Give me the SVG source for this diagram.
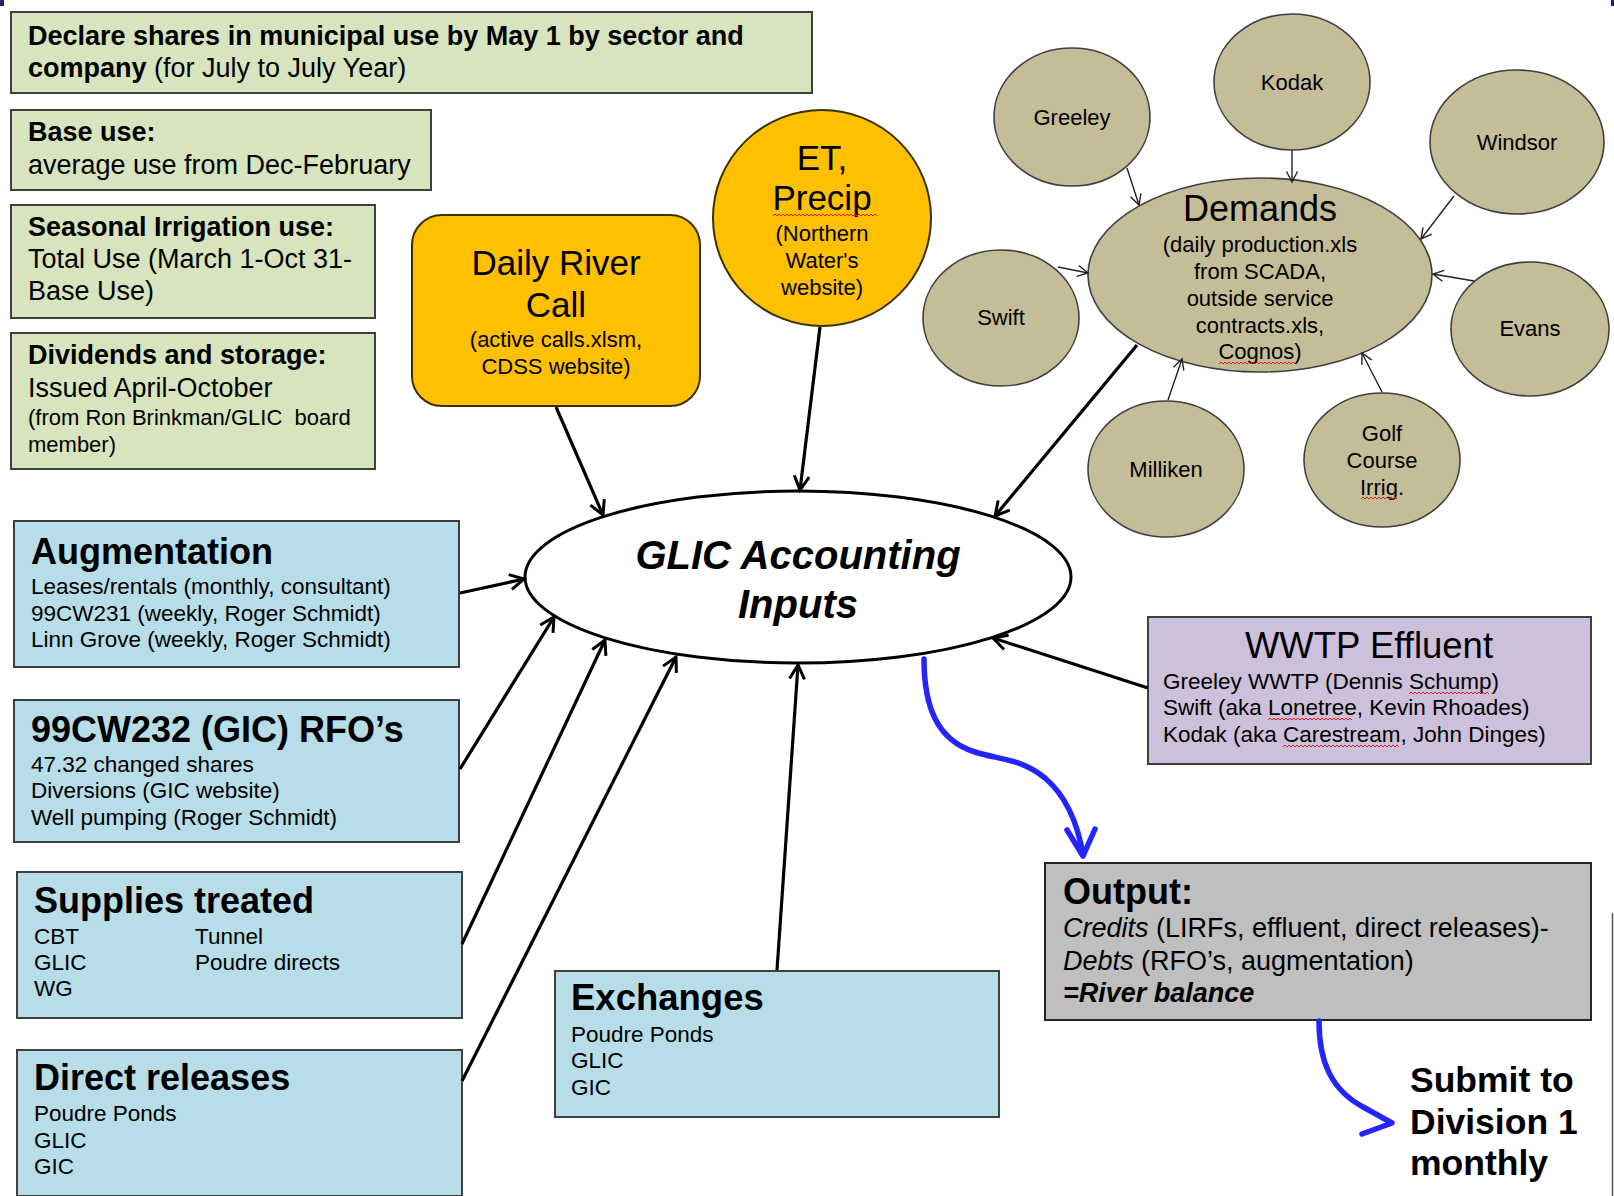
<svg xmlns="http://www.w3.org/2000/svg" width="1614" height="1196" viewBox="0 0 1614 1196">
<style>
text{font-family:"Liberation Sans",Arial,sans-serif;fill:#000}
.b{font-weight:bold}
.i{font-style:italic}
.g{fill:#D7E4BD;stroke:#3F3F3F;stroke-width:2}
.bl{fill:#B7DDE8;stroke:#3F3F3F;stroke-width:2}
.y{fill:#FFC000;stroke:#3a3000;stroke-width:2}
.t{fill:#C4BD97;stroke:#3F3F3F;stroke-width:1.6}
.f27{font-size:27px}
.f22{font-size:22px}
.f225{font-size:22.5px}
.f35{font-size:35px}
.f36{font-size:36px}
.ct{text-anchor:middle}
.thick{stroke:#000;stroke-width:3.2;fill:none}
.thin{stroke:#222;stroke-width:1.4;fill:none}
.blue{stroke:#2424FF;stroke-width:5.5;fill:none;stroke-linecap:round;stroke-linejoin:round}
.sq{stroke:#E02020;stroke-width:1;fill:none}
</style>
<defs>
<marker id="ah" markerUnits="userSpaceOnUse" markerWidth="20" markerHeight="20" refX="15" refY="9" orient="auto">
<path d="M1,1.5 L15,9 L1,16.5" fill="none" stroke="#000" stroke-width="3"/>
</marker>
<marker id="ahs" markerUnits="userSpaceOnUse" markerWidth="14" markerHeight="14" refX="11" refY="7" orient="auto">
<path d="M0.5,1.5 L11,7 L0.5,12.5" fill="none" stroke="#222" stroke-width="1.4"/>
</marker>
</defs>
<rect width="1614" height="1196" fill="#fff"/>
<rect x="0" y="0" width="4" height="6" fill="#1B2A6B"/>
<rect x="1611" y="0" width="3" height="6" fill="#1B2A6B"/>
<line x1="1612.5" y1="913" x2="1612.5" y2="1196" stroke="#555" stroke-width="1.5"/>

<g id="declare">
<rect class="g" x="11" y="12" width="801" height="81"/>
<text class="f27" x="28" y="45"><tspan class="b">Declare shares in municipal use by May 1 by sector and</tspan></text>
<text class="f27" x="28" y="77"><tspan class="b">company</tspan> (for July to July Year)</text>
</g>
<g id="base-use">
<rect class="g" x="11" y="110" width="420" height="80"/>
<text class="f27 b" x="28" y="141">Base use:</text>
<text class="f27" x="28" y="174">average use from Dec-February</text>
</g>
<g id="seasonal">
<rect class="g" x="11" y="205" width="364" height="113"/>
<text class="f27 b" x="28" y="236">Seasonal Irrigation use:</text>
<text class="f27" x="28" y="268">Total Use (March 1-Oct 31-</text>
<text class="f27" x="28" y="300">Base Use)</text>
</g>
<g id="dividends">
<rect class="g" x="11" y="333" width="364" height="136"/>
<text class="f27 b" x="28" y="364">Dividends and storage:</text>
<text class="f27" x="28" y="397">Issued April-October</text>
<text class="f22" x="28" y="425" xml:space="preserve">(from Ron Brinkman/GLIC  board</text>
<text class="f22" x="28" y="452">member)</text>
</g>

<g id="daily-river-call">
<rect class="y" x="412" y="215" width="288" height="191" rx="30"/>
<text class="f35 ct" x="556" y="275">Daily River</text>
<text class="f35 ct" x="556" y="317">Call</text>
<text class="f22 ct" x="556" y="347">(active calls.xlsm,</text>
<text class="f22 ct" x="556" y="374">CDSS website)</text>
</g>
<g id="et-precip">
<ellipse class="y" cx="822" cy="218" rx="109" ry="108"/>
<text class="f35 ct" x="822" y="170">ET,</text>
<text class="f35 ct" x="822" y="210">Precip</text>
<path class="sq" d="M773,216 l2,-2 2,2 2,-2 2,2 2,-2 2,2 2,-2 2,2 2,-2 2,2 2,-2 2,2 2,-2 2,2 2,-2 2,2 2,-2 2,2 2,-2 2,2 2,-2 2,2 2,-2 2,2 2,-2 2,2 2,-2 2,2 2,-2 2,2 2,-2 2,2 2,-2 2,2 2,-2 2,2 2,-2 2,2 2,-2 2,2 2,-2 2,2 2,-2 2,2 2,-2 2,2 2,-2 2,2 2,-2 2,2 2,-2 2,2"/>
<text class="f22 ct" x="822" y="241">(Northern</text>
<text class="f22 ct" x="822" y="268">Water's</text>
<text class="f22 ct" x="822" y="295">website)</text>
</g>

<g id="demands">
<ellipse class="t" cx="1260" cy="275" rx="172" ry="97"/>
<text class="ct" x="1260" y="221" font-size="36">Demands</text>
<text class="f22 ct" x="1260" y="252">(daily production.xls</text>
<text class="f22 ct" x="1260" y="279">from SCADA,</text>
<text class="f22 ct" x="1260" y="306">outside service</text>
<text class="f22 ct" x="1260" y="333">contracts.xls,</text>
<text class="f22 ct" x="1260" y="359">Cognos)</text>
<path class="sq" d="M1219,364 l2,-2 2,2 2,-2 2,2 2,-2 2,2 2,-2 2,2 2,-2 2,2 2,-2 2,2 2,-2 2,2 2,-2 2,2 2,-2 2,2 2,-2 2,2 2,-2 2,2 2,-2 2,2 2,-2 2,2 2,-2 2,2 2,-2 2,2 2,-2 2,2 2,-2 2,2 2,-2 2,2 2,-2 2,2"/>
</g>
<g id="greeley"><ellipse class="t" cx="1072" cy="117" rx="78" ry="69"/><text class="f22 ct" x="1072" y="125">Greeley</text></g>
<g id="kodak"><ellipse class="t" cx="1292" cy="82" rx="78" ry="68"/><text class="f22 ct" x="1292" y="90">Kodak</text></g>
<g id="windsor"><ellipse class="t" cx="1517" cy="142" rx="87" ry="72"/><text class="f22 ct" x="1517" y="150">Windsor</text></g>
<g id="swift"><ellipse class="t" cx="1001" cy="318" rx="78" ry="68"/><text class="f22 ct" x="1001" y="325">Swift</text></g>
<g id="evans"><ellipse class="t" cx="1530" cy="329" rx="79" ry="67"/><text class="f22 ct" x="1530" y="336">Evans</text></g>
<g id="milliken"><ellipse class="t" cx="1166" cy="469" rx="78" ry="68"/><text class="f22 ct" x="1166" y="477">Milliken</text></g>
<g id="golf"><ellipse class="t" cx="1382" cy="460" rx="78" ry="67"/>
<text class="f22 ct" x="1382" y="441">Golf</text>
<text class="f22 ct" x="1382" y="468">Course</text>
<text class="f22 ct" x="1382" y="495">Irrig.</text>
<path class="sq" d="M1361,499 l2,-2 2,2 2,-2 2,2 2,-2 2,2 2,-2 2,2 2,-2 2,2 2,-2 2,2 2,-2 2,2 2,-2 2,2 2,-2 2,2"/>
</g>

<g id="glic">
<ellipse cx="798" cy="577" rx="273" ry="86" fill="#fff" stroke="#000" stroke-width="3"/>
<text class="b i ct" x="798" y="569" font-size="40">GLIC Accounting</text>
<text class="b i ct" x="798" y="618" font-size="40">Inputs</text>
</g>

<g id="augmentation">
<rect class="bl" x="14" y="521" width="445" height="146"/>
<text class="f36 b" x="31" y="564">Augmentation</text>
<text class="f225" x="31" y="594">Leases/rentals (monthly, consultant)</text>
<text class="f225" x="31" y="621">99CW231 (weekly, Roger Schmidt)</text>
<text class="f225" x="31" y="647">Linn Grove (weekly, Roger Schmidt)</text>
</g>
<g id="rfos">
<rect class="bl" x="14" y="700" width="445" height="142"/>
<text class="f36 b" x="31" y="742">99CW232 (GIC) RFO’s</text>
<text class="f225" x="31" y="772">47.32 changed shares</text>
<text class="f225" x="31" y="798">Diversions (GIC website)</text>
<text class="f225" x="31" y="825">Well pumping (Roger Schmidt)</text>
</g>
<g id="supplies">
<rect class="bl" x="17" y="872" width="445" height="146"/>
<text class="f36 b" x="34" y="913">Supplies treated</text>
<text class="f225" x="34" y="944">CBT</text>
<text class="f225" x="195" y="944">Tunnel</text>
<text class="f225" x="34" y="970">GLIC</text>
<text class="f225" x="195" y="970">Poudre directs</text>
<text class="f225" x="34" y="996">WG</text>
</g>
<g id="direct-releases">
<rect class="bl" x="17" y="1050" width="445" height="146"/>
<text class="f36 b" x="34" y="1090">Direct releases</text>
<text class="f225" x="34" y="1121">Poudre Ponds</text>
<text class="f225" x="34" y="1148">GLIC</text>
<text class="f225" x="34" y="1174">GIC</text>
</g>
<g id="exchanges">
<rect class="bl" x="555" y="971" width="444" height="146"/>
<text class="b" x="571" y="1010" font-size="36.5">Exchanges</text>
<text class="f225" x="571" y="1042">Poudre Ponds</text>
<text class="f225" x="571" y="1068">GLIC</text>
<text class="f225" x="571" y="1095">GIC</text>
</g>
<g id="wwtp">
<rect x="1148" y="617" width="443" height="147" fill="#CCC0DA" stroke="#3F3F3F" stroke-width="2"/>
<text class="ct" x="1369" y="658" font-size="36.5">WWTP Effluent</text>
<text class="f225" x="1163" y="689">Greeley WWTP (Dennis Schump)</text>
<text class="f225" x="1163" y="715">Swift (aka Lonetree, Kevin Rhoades)</text>
<text class="f225" x="1163" y="742">Kodak (aka Carestream, John Dinges)</text>
<path class="sq" d="M1409,694 l2,-2 2,2 2,-2 2,2 2,-2 2,2 2,-2 2,2 2,-2 2,2 2,-2 2,2 2,-2 2,2 2,-2 2,2 2,-2 2,2 2,-2 2,2 2,-2 2,2 2,-2 2,2 2,-2 2,2 2,-2 2,2 2,-2 2,2 2,-2 2,2 2,-2 2,2 2,-2 2,2 2,-2 2,2 2,-2 2,2"/>
<path class="sq" d="M1268,720 l2,-2 2,2 2,-2 2,2 2,-2 2,2 2,-2 2,2 2,-2 2,2 2,-2 2,2 2,-2 2,2 2,-2 2,2 2,-2 2,2 2,-2 2,2 2,-2 2,2 2,-2 2,2 2,-2 2,2 2,-2 2,2 2,-2 2,2 2,-2 2,2 2,-2 2,2 2,-2 2,2 2,-2 2,2 2,-2 2,2 2,-2 2,2"/>
<path class="sq" d="M1283,747 l2,-2 2,2 2,-2 2,2 2,-2 2,2 2,-2 2,2 2,-2 2,2 2,-2 2,2 2,-2 2,2 2,-2 2,2 2,-2 2,2 2,-2 2,2 2,-2 2,2 2,-2 2,2 2,-2 2,2 2,-2 2,2 2,-2 2,2 2,-2 2,2 2,-2 2,2 2,-2 2,2 2,-2 2,2 2,-2 2,2 2,-2 2,2 2,-2 2,2 2,-2 2,2 2,-2 2,2 2,-2 2,2 2,-2 2,2 2,-2 2,2 2,-2 2,2 2,-2 2,2"/>
</g>
<g id="output">
<rect x="1045" y="863" width="546" height="157" fill="#BFBFBF" stroke="#262626" stroke-width="2"/>
<text class="b" x="1063" y="904" font-size="36">Output:</text>
<text class="f27" x="1063" y="937"><tspan class="i">Credits</tspan> (LIRFs, effluent, direct releases)-</text>
<text class="f27" x="1063" y="970"><tspan class="i">Debts</tspan> (RFO’s, augmentation)</text>
<text class="b i" x="1063" y="1002" font-size="27">=River balance</text>
</g>
<g id="submit">
<text class="b" x="1410" y="1092" font-size="35.5">Submit to</text>
<text class="b" x="1410" y="1134" font-size="35.5">Division 1</text>
<text class="b" x="1410" y="1175" font-size="35.5">monthly</text>
</g>

<g id="connectors">
<line class="thick" x1="556" y1="407" x2="603" y2="515" marker-end="url(#ah)"/>
<line class="thick" x1="820" y1="327" x2="800" y2="490" marker-end="url(#ah)"/>
<line class="thick" x1="1137" y1="345" x2="995" y2="516" marker-end="url(#ah)"/>
<line class="thick" x1="460" y1="593" x2="524" y2="579" marker-end="url(#ah)"/>
<line class="thick" x1="460" y1="769" x2="554" y2="617" marker-end="url(#ah)"/>
<line class="thick" x1="462" y1="944" x2="605" y2="640" marker-end="url(#ah)"/>
<line class="thick" x1="462" y1="1081" x2="676" y2="657" marker-end="url(#ah)"/>
<line class="thick" x1="777" y1="970" x2="798" y2="665" stroke-width="2.6" marker-end="url(#ah)"/>
<line class="thick" x1="1148" y1="688" x2="993" y2="638" marker-end="url(#ah)"/>
<line class="thin" x1="1127" y1="168" x2="1139" y2="205" marker-end="url(#ahs)"/>
<line class="thin" x1="1292" y1="150" x2="1292" y2="182" marker-end="url(#ahs)"/>
<line class="thin" x1="1454" y1="196" x2="1421" y2="239" marker-end="url(#ahs)"/>
<line class="thin" x1="1058" y1="267" x2="1088" y2="273" marker-end="url(#ahs)"/>
<line class="thin" x1="1474" y1="281" x2="1433" y2="274" marker-end="url(#ahs)"/>
<line class="thin" x1="1168" y1="400" x2="1182" y2="359" marker-end="url(#ahs)"/>
<line class="thin" x1="1382" y1="392" x2="1362" y2="353" marker-end="url(#ahs)"/>
<path class="blue" d="M924,659 C924,705 936,740 975,752 C1000,760 1020,758 1045,778 C1066,796 1078,825 1083,855"/>
<path class="blue" d="M1067,830 L1083,856 L1095,829"/>
<path class="blue" d="M1319,1021 C1319,1060 1330,1090 1365,1108 L1392,1123 L1362,1134"/>
</g>
</svg>
